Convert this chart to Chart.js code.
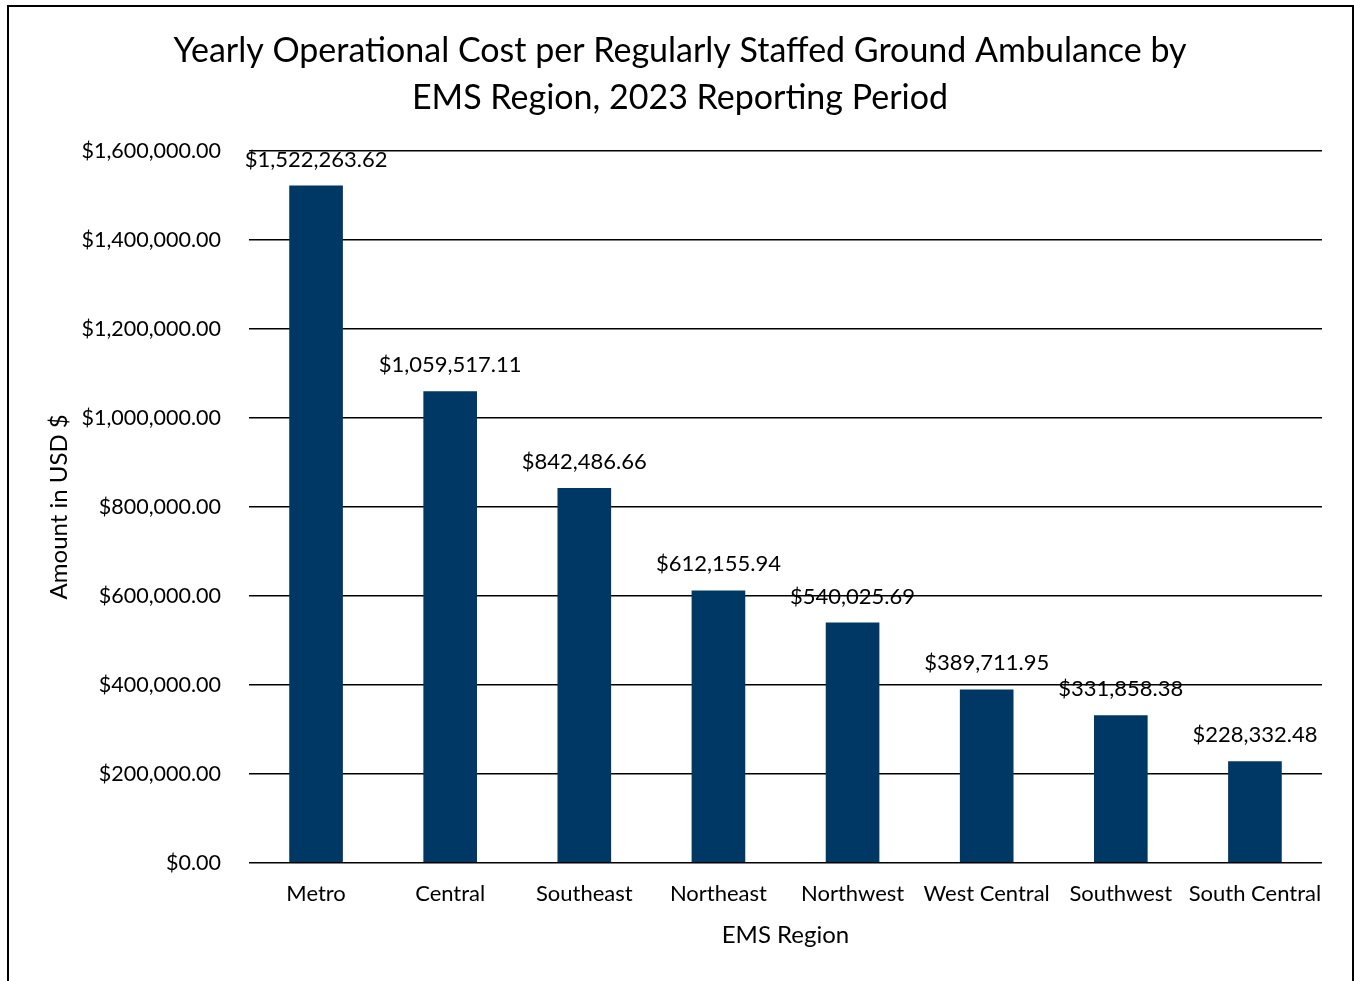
<!DOCTYPE html>
<html>
<head>
<meta charset="utf-8">
<script src="https://cdn.jsdelivr.net/npm/chart.js@4"></script>
<style>
  body { margin: 0; background: #fff; }
  #frame {
    position: absolute; left: 7px; top: 5px; width: 1343px; height: 974px;
    border-left: 2px solid #000; border-top: 2px solid #000; border-right: 2px solid #000;
    border-bottom: 1px solid #999;
  }
  #chart { position: absolute; left: 0; top: 0; }
</style>
</head>
<body>
<div id="frame"></div>
<canvas id="chart" width="1354" height="981"></canvas>
<script>
const regions = ['Metro', 'Central', 'Southeast', 'Northeast', 'Northwest', 'West Central', 'Southwest', 'South Central'];
const costs = [1522263.62, 1059517.11, 842486.66, 612155.94, 540025.69, 389711.95, 331858.38, 228332.48];
const yTicks = { min: 0, max: 1600000, step: 200000 };

const FONT = 'Lato';

function usd(v) {
  return '$' + v.toLocaleString('en-US', { minimumFractionDigits: 2, maximumFractionDigits: 2 });
}

// values over each bar
const barLabels = {
  id: 'barLabels',
  afterDatasetsDraw(chart) {
    const ctx = chart.ctx;
    const meta = chart.getDatasetMeta(0);
    ctx.save();
    ctx.font = '22px ' + FONT;
    ctx.fillStyle = '#000';
    ctx.textAlign = 'center';
    ctx.textBaseline = 'middle';
    meta.data.forEach((bar, i) => {
      ctx.fillText(usd(costs[i]), bar.x, bar.y - 26);
    });
    ctx.restore();
  }
};

new Chart(document.getElementById('chart'), {
  type: 'bar',
  data: {
    labels: regions,
    datasets: [{
      data: costs,
      backgroundColor: '#003865',
      barPercentage: 0.4,
      categoryPercentage: 1
    }]
  },
  options: {
    responsive: false,
    animation: false,
    layout: { padding: { left: 38, right: 32, top: 28, bottom: 27 } },
    plugins: {
      legend: { display: false },
      tooltip: { enabled: false },
      title: {
        display: true,
        text: ['Yearly Operational Cost per Regularly Staffed Ground Ambulance by', 'EMS Region, 2023 Reporting Period'],
        color: '#000',
        font: { family: FONT, size: 34, weight: 'normal', lineHeight: 1.38 },
        padding: { top: 0, bottom: 29 }
      }
    },
    scales: {
      x: {
        grid: { display: false },
        border: { display: false },
        ticks: { color: '#000', font: { family: FONT, size: 22 }, padding: 10, maxRotation: 0, autoSkip: false },
        title: { display: true, text: 'EMS Region', color: '#000', font: { family: FONT, size: 24 }, padding: { top: 4 } }
      },
      y: {
        min: yTicks.min,
        max: yTicks.max,
        grid: { color: '#000', lineWidth: 1.5, drawTicks: false },
        border: { display: false },
        ticks: {
          stepSize: yTicks.step,
          color: '#000',
          font: { family: FONT, size: 21.5 },
          padding: 28,
          callback: v => usd(v)
        },
        title: { display: true, text: 'Amount in USD $', color: '#000', font: { family: FONT, size: 24 }, padding: { top: 7, bottom: 0 } },
        afterFit(scale) { scale.width = 211; }
      }
    }
  },
  plugins: [barLabels]
});
</script>
</body>
</html>
